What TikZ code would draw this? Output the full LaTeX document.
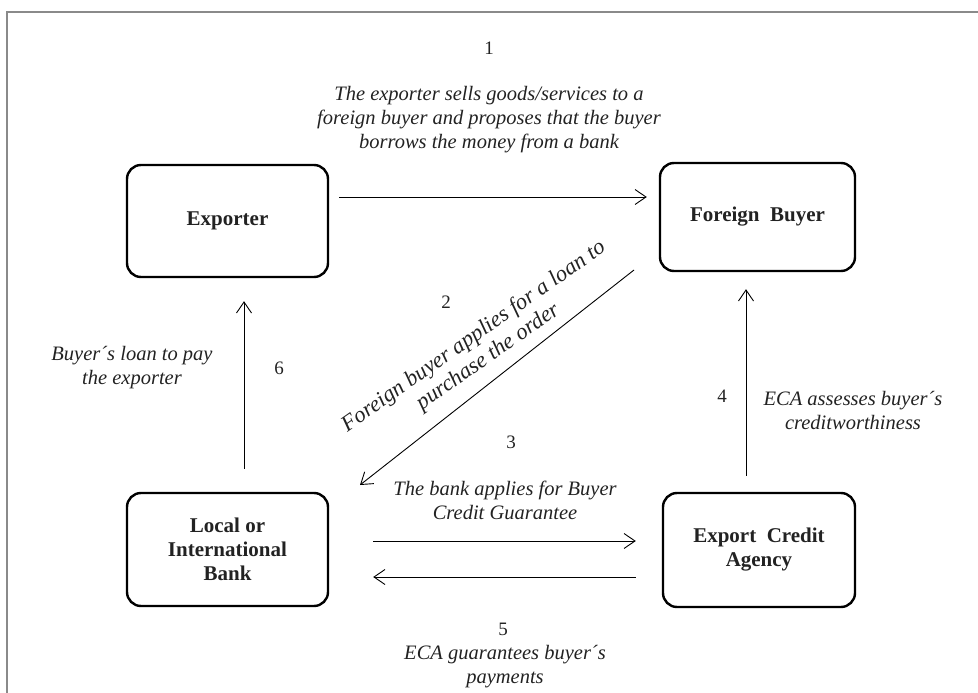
\documentclass[tikz,border=0pt]{standalone}
\usepackage{fontspec}
\setmainfont{Liberation Serif}
\usetikzlibrary{arrows.meta}
\definecolor{txt}{HTML}{222222}
\definecolor{frame}{HTML}{8A8A8A}
\begin{document}
\begin{tikzpicture}[x=1pt,y=-1pt,
  box/.style={draw, line width=2.4pt, rounded corners=14pt, align=center,
    font=\fontsize{21}{24}\selectfont\bfseries, inner sep=0pt, text=txt},
  arr/.style={-{Straight Barb[length=11pt,width=15pt]}, line width=0.9pt},
  lab/.style={font=\fontsize{20.5}{24}\selectfont\itshape, align=center, inner sep=0pt, text=txt},
  rlab/.style={font=\fontsize{22.5}{25}\selectfont\itshape, align=center, inner sep=0pt, text=txt},
  num/.style={font=\fontsize{19}{24}\selectfont, inner sep=0pt, text=txt}]
\useasboundingbox (0,0) rectangle (978,693);
\draw[frame, line width=1.4pt] (978,12) -- (7,12) -- (7,693);

% nodes
\node[box, minimum width=201pt, minimum height=112pt] (exp) at (227.5,221) {Exporter};
\node[box, minimum width=195pt, minimum height=108pt] (fb) at (757.5,217) {Foreign\ \ Buyer};
\node[box, minimum width=201pt, minimum height=113pt] (bank) at (227.5,549.5) {Local or\\International\\Bank};
\node[box, minimum width=192pt, minimum height=114pt] (eca) at (759,550) {Export\ \ Credit\\Agency};

% arrow end points
\coordinate (a1s) at ([xshift=10pt]exp.east |- 0,197);
\coordinate (a1e) at ([xshift=-12pt]fb.west |- 0,197);
\coordinate (a2s) at (634,270);
\coordinate (a2e) at (360,485);
\coordinate (a3s) at ([xshift=44pt]bank.east |- 0,541);
\coordinate (a3e) at ([xshift=-26pt]eca.west |- 0,541);
\coordinate (a5s) at (a3e |- 0,577);
\coordinate (a5e) at (a3s |- 0,577);
\coordinate (a4s) at ([yshift=16pt]eca.north -| 746,0);
\coordinate (a4e) at ([yshift=-17pt]fb.south -| 746,0);
\coordinate (a6s) at ([yshift=23pt]bank.north -| 244,0);
\coordinate (a6e) at ([yshift=-23pt]exp.south -| 244,0);

\draw[arr] (a1s) -- (a1e);
\draw[arr] (a2s) -- (a2e);
\draw[arr] (a3s) -- (a3e);
\draw[arr] (a5s) -- (a5e);
\draw[arr] (a4s) -- (a4e);
\draw[arr] (a6s) -- (a6e);

% labels
\node[num] (n1) at (489,48) {1};
\node[lab] (t1) at (489,120) {The exporter sells goods/services to a\\foreign buyer and proposes that the buyer\\borrows the money from a bank};
\node[num] (n2) at (446,302) {2};
\node[rlab, rotate=35] (t2) at (481,347) {Foreign buyer applies for a loan to\\purchase the order};
\node[num] (n3) at (511,442) {3};
\node[lab] (t3) at (505,500) {The bank applies for Buyer\\Credit Guarantee};
\node[num] (n4) at (722,396) {4};
\node[lab] (t4) at (853,410) {ECA assesses buyer´s\\creditworthiness};
\node[num] (n5) at (503,629) {5};
\node[lab] (t5) at (505,667) {ECA guarantees buyer´s\\payments};
\node[num] (n6) at (279,368) {6};
\node[lab] (t6) at (132,368) {Buyer´s loan to pay\\the exporter};
\end{tikzpicture}
\end{document}
